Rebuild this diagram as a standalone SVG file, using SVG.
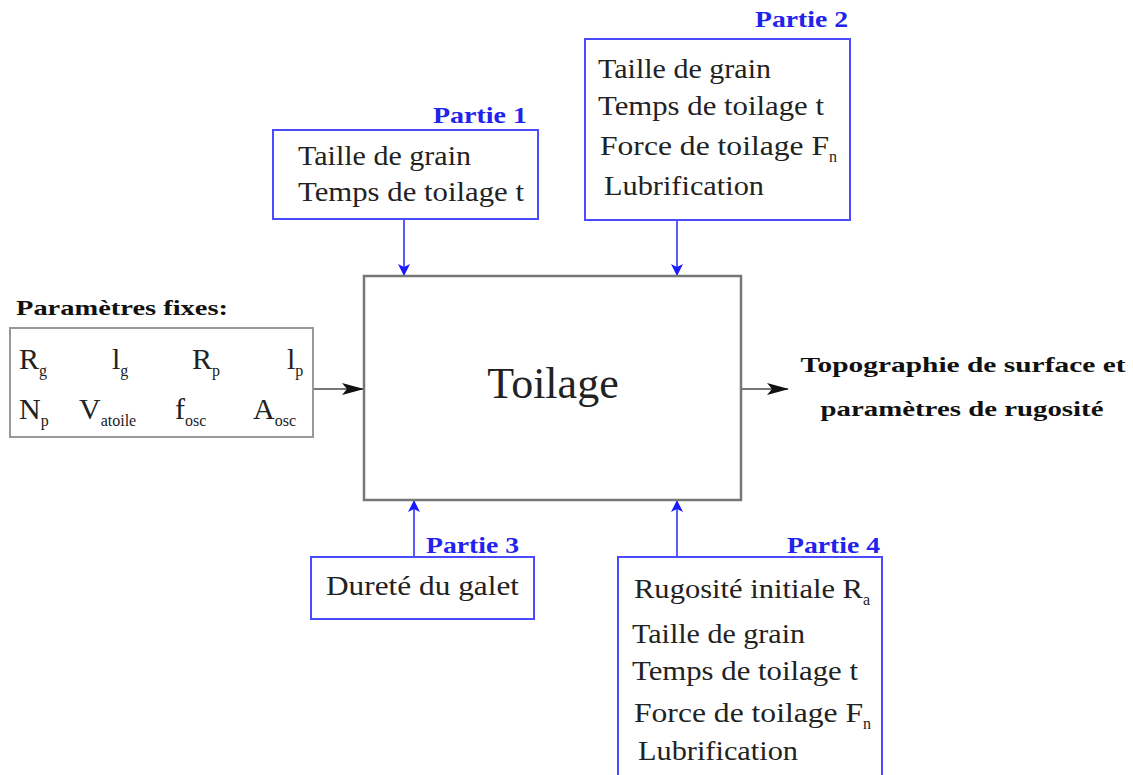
<svg xmlns="http://www.w3.org/2000/svg" width="1133" height="775" viewBox="0 0 1133 775">
<style>
.t{font-family:"Liberation Serif",serif;font-size:27px;fill:#222}
.f{font-size:30px}
.s{font-size:16px}
.lbl{font-family:"Liberation Serif",serif;font-size:23px;font-weight:bold;fill:#2222ee}
.b{font-family:"Liberation Serif",serif;font-size:22px;font-weight:bold;fill:#111}
.bbox{fill:#fff;stroke:#4a4aff;stroke-width:2}
.gbox{fill:#fff;stroke:#999;stroke-width:2}
.bl{stroke:#5a5aff;stroke-width:2;fill:none}
.gl{stroke:#777;stroke-width:2;fill:none}
</style>
<defs>
<marker id="ab" markerWidth="12" markerHeight="14" refX="11" refY="7" orient="auto" markerUnits="userSpaceOnUse"><path d="M0,1 L12,7 L0,13 L3,7 z" fill="#1a1aff"/></marker>
<marker id="ak" markerWidth="22" markerHeight="14" refX="21" refY="7" orient="auto" markerUnits="userSpaceOnUse"><path d="M0,1 L22,7 L0,13 L5,7 z" fill="#111"/></marker>
</defs>
<rect width="1133" height="775" fill="#fff"/>

<g id="connectors">
<line class="bl" x1="404" y1="219" x2="404" y2="275" marker-end="url(#ab)"/>
<line class="bl" x1="677" y1="220" x2="677" y2="275" marker-end="url(#ab)"/>
<line class="bl" x1="414" y1="557" x2="414" y2="501" marker-end="url(#ab)"/>
<line class="bl" x1="677" y1="557" x2="677" y2="501" marker-end="url(#ab)"/>
<line class="gl" x1="313" y1="389" x2="363" y2="389" marker-end="url(#ak)"/>
<line class="gl" x1="742" y1="389" x2="788" y2="389" marker-end="url(#ak)"/>
</g>

<g id="toilage">
<rect x="364" y="276" width="377" height="224" fill="#fff" stroke="#777" stroke-width="2.5"/>
<text x="553" y="398" text-anchor="middle" style="font-family:'Liberation Serif',serif;font-size:44px;fill:#222">Toilage</text>
</g>

<g id="fixes">
<text class="b" x="16" y="315" textLength="212" lengthAdjust="spacingAndGlyphs">Paramètres fixes:</text>
<rect class="gbox" x="10" y="328" width="303" height="109"/>
<text class="t f" x="19" y="369">R<tspan class="s" dy="7">g</tspan></text>
<text class="t f" x="112" y="369">l<tspan class="s" dy="7">g</tspan></text>
<text class="t f" x="192" y="369">R<tspan class="s" dy="7">p</tspan></text>
<text class="t f" x="287" y="369">l<tspan class="s" dy="7">p</tspan></text>
<text class="t f" x="19" y="419">N<tspan class="s" dy="7">p</tspan></text>
<text class="t f" x="79" y="419">V<tspan class="s" dy="7">atoile</tspan></text>
<text class="t f" x="175" y="419">f<tspan class="s" dy="7">osc</tspan></text>
<text class="t f" x="253" y="419">A<tspan class="s" dy="7">osc</tspan></text>
</g>

<g id="partie1">
<text class="lbl" x="433" y="123" textLength="94" lengthAdjust="spacingAndGlyphs">Partie 1</text>
<rect class="bbox" x="273" y="130" width="265" height="89"/>
<text class="t" x="298" y="165" textLength="173" lengthAdjust="spacingAndGlyphs">Taille de grain</text>
<text class="t" x="298" y="201" textLength="226" lengthAdjust="spacingAndGlyphs">Temps de toilage t</text>
</g>

<g id="partie2">
<text class="lbl" x="755" y="27" textLength="93" lengthAdjust="spacingAndGlyphs">Partie 2</text>
<rect class="bbox" x="585" y="39" width="265" height="181"/>
<text class="t" x="598" y="78" textLength="173" lengthAdjust="spacingAndGlyphs">Taille de grain</text>
<text class="t" x="598" y="115" textLength="226" lengthAdjust="spacingAndGlyphs">Temps de toilage t</text>
<text class="t" x="600" y="155"><tspan textLength="229" lengthAdjust="spacingAndGlyphs">Force de toilage F</tspan><tspan class="s" dy="7">n</tspan></text>
<text class="t" x="604" y="195" textLength="160" lengthAdjust="spacingAndGlyphs">Lubrification</text>
</g>

<g id="output">
<text class="b" x="963" y="372" text-anchor="middle" textLength="325" lengthAdjust="spacingAndGlyphs">Topographie de surface et</text>
<text class="b" x="962" y="416" text-anchor="middle" textLength="283" lengthAdjust="spacingAndGlyphs">paramètres de rugosité</text>
</g>

<g id="partie3">
<text class="lbl" x="426" y="553" textLength="93" lengthAdjust="spacingAndGlyphs">Partie 3</text>
<rect class="bbox" x="311" y="557" width="223" height="62"/>
<text class="t" x="326" y="595" textLength="193" lengthAdjust="spacingAndGlyphs">Dureté du galet</text>
</g>

<g id="partie4">
<text class="lbl" x="787" y="553" textLength="93" lengthAdjust="spacingAndGlyphs">Partie 4</text>
<path class="bl" d="M618,780 V557 H882 V780" style="stroke:#4a4aff"/>
<text class="t" x="634" y="598"><tspan textLength="229" lengthAdjust="spacingAndGlyphs">Rugosité initiale R</tspan><tspan class="s" dy="7">a</tspan></text>
<text class="t" x="632" y="643" textLength="173" lengthAdjust="spacingAndGlyphs">Taille de grain</text>
<text class="t" x="632" y="680" textLength="226" lengthAdjust="spacingAndGlyphs">Temps de toilage t</text>
<text class="t" x="634" y="722"><tspan textLength="229" lengthAdjust="spacingAndGlyphs">Force de toilage F</tspan><tspan class="s" dy="7">n</tspan></text>
<text class="t" x="638" y="760" textLength="160" lengthAdjust="spacingAndGlyphs">Lubrification</text>
</g>
</svg>
